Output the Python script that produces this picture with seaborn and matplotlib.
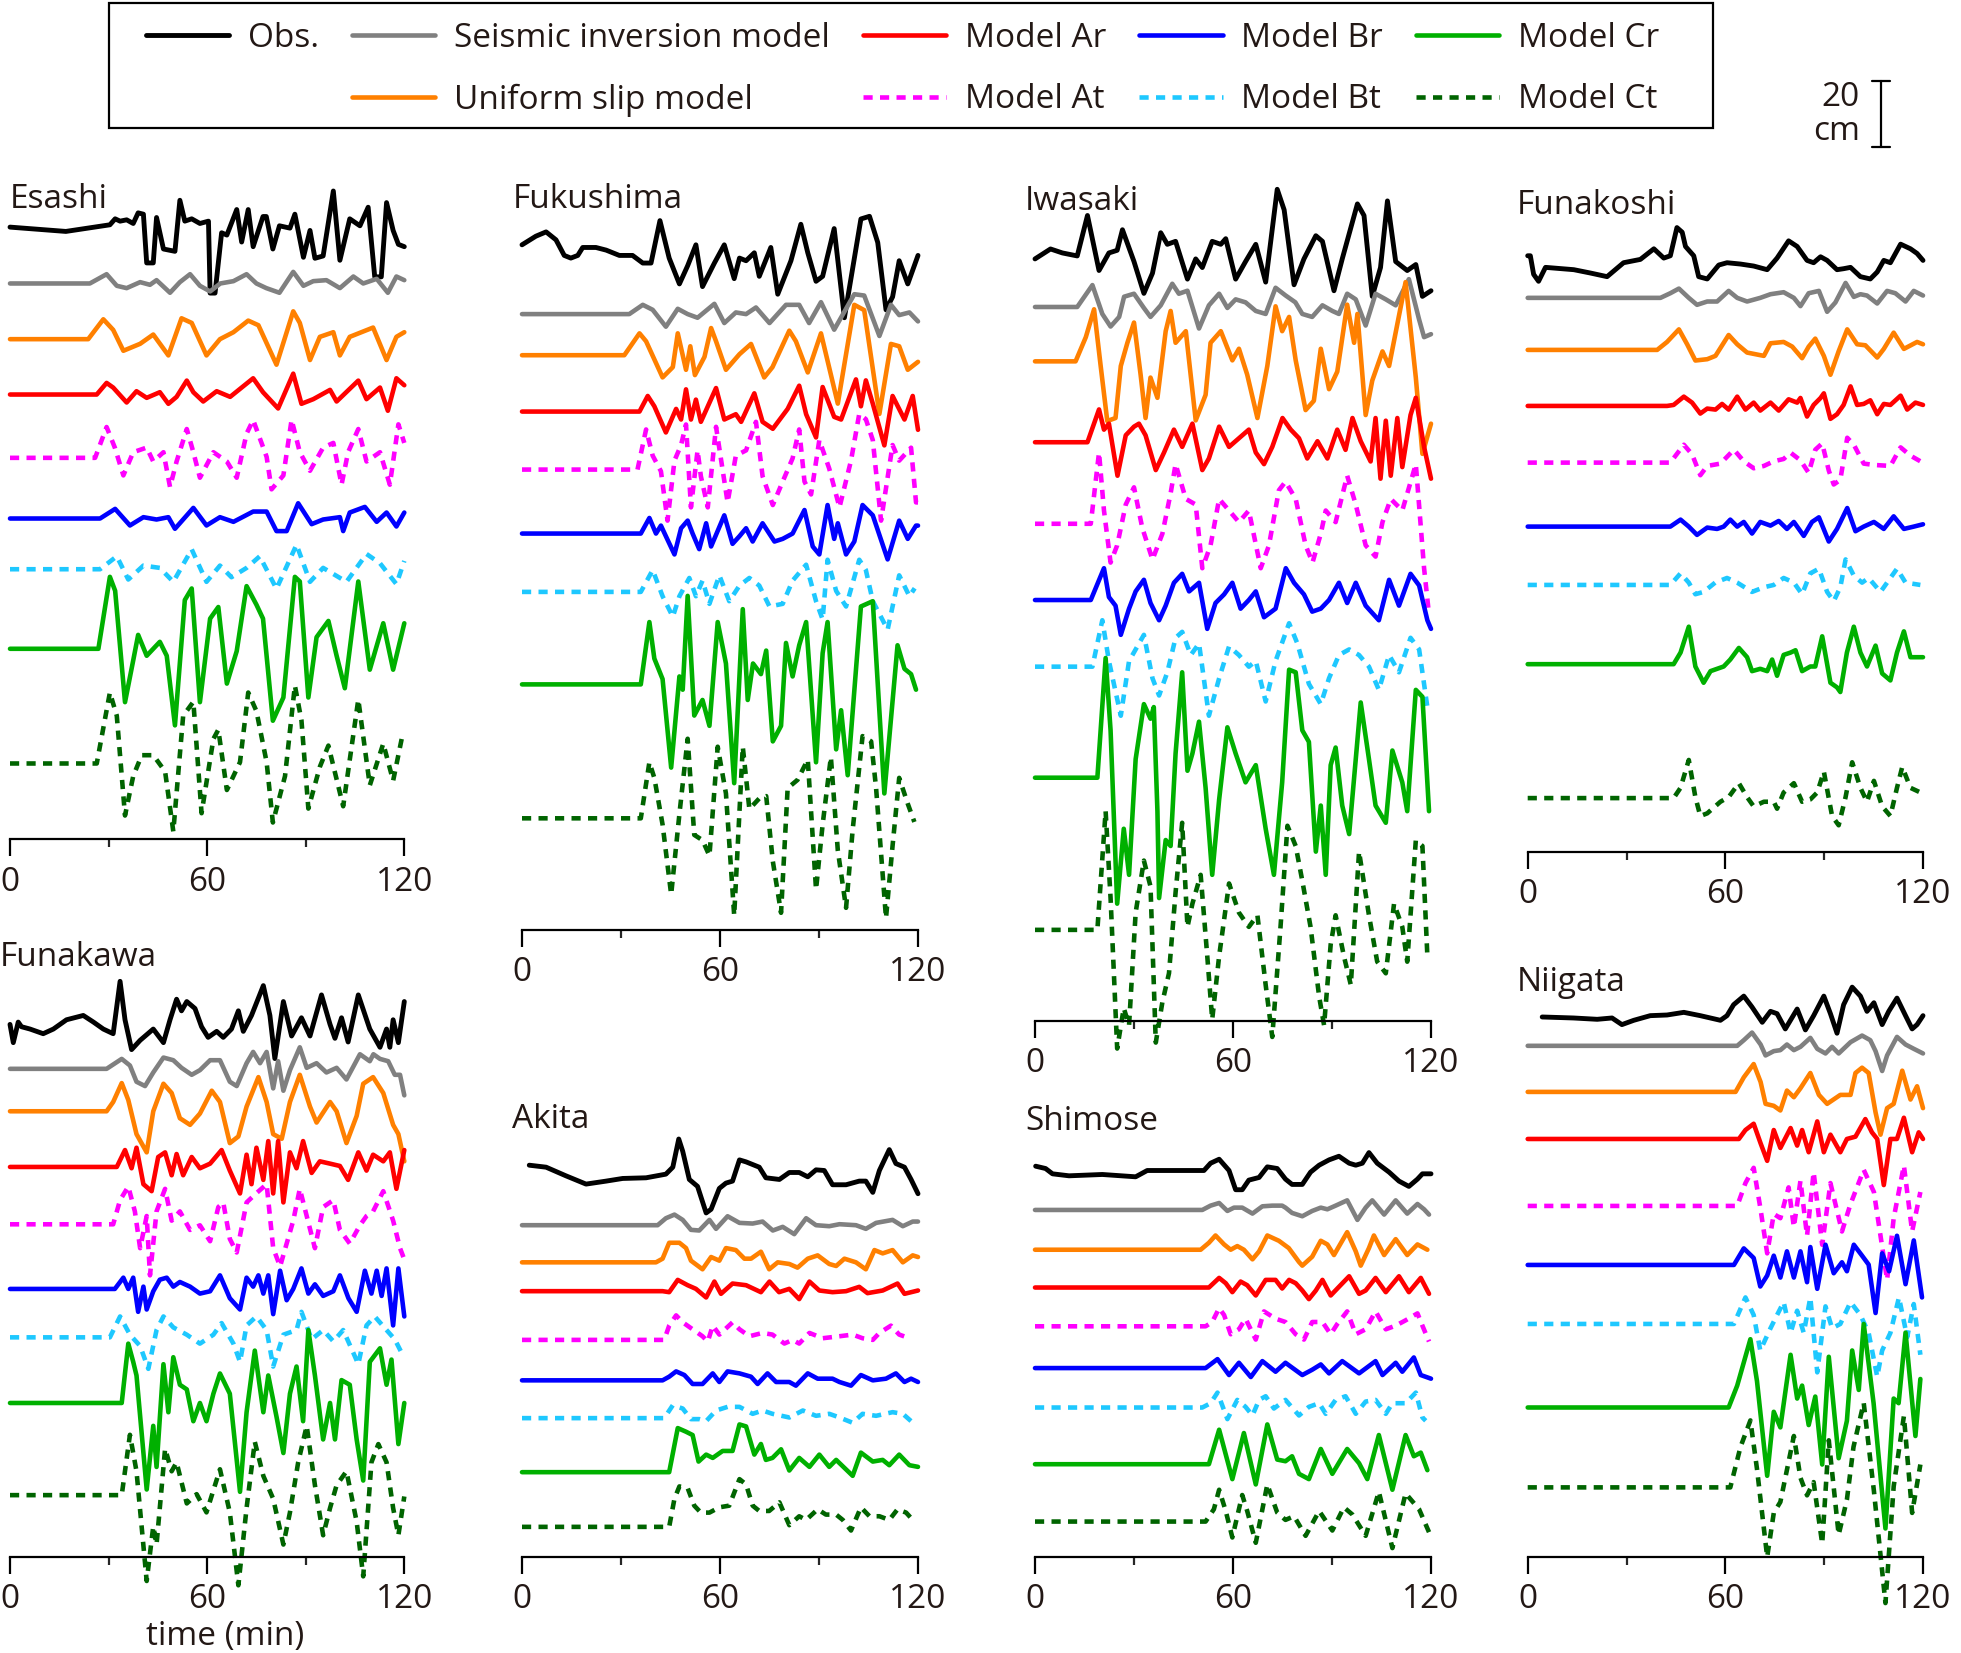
import matplotlib
matplotlib.use("Agg")
import matplotlib.pyplot as plt
import pandas as pd
import seaborn as sns
from matplotlib.lines import Line2D
from matplotlib.patches import Rectangle

# ---------------- DATA (time in min, amplitude in cm relative to trace baseline) -------------
SERIES_KEYS = ["obs", "seis", "unif", "Ar", "At", "Br", "Bt", "Cr", "Ct"]
SERIES_LABELS = ["Obs.", "Seismic inversion model", "Uniform slip model", "Model Ar", "Model At",
                 "Model Br", "Model Bt", "Model Cr", "Model Ct"]
TIME_MAJOR = [0, 60, 120]
TIME_MINOR = [30, 90]
SCALE_CM = 20
X_LABEL = "time (min)"

ESASHI = {
    "obs": [(0,0),(17,-1.3),(30.4,0.7),(32,2.5),(33.5,1.8),(35.5,2.2),(37.5,1.1),(39,4.3),(40.6,3.9),(41.6,-10.8),(43.6,-10.8),(44.6,2.9),(46.7,-6.6),(50.2,-7.3),(51.7,8.1),(53.2,1.8),(55.3,2.5),(57.8,1.1),(60.4,1.8),(60.9,-19.9),(62.4,-19.9),(64.4,-1.7),(66,-2.4),(69,5.3),(70.5,-4.5),(72.5,5.3),(74,-5.9),(77,3.2),(78,3.2),(80,-6.6),(82,0.4),(85.2,-0.3),(86.7,3.9),(89.3,-9.1),(91.3,-1),(92.8,-9.4),(95.3,-8.7),(98.4,10.9),(100.4,-10),(103.4,2.5),(106.5,0.4),(109,6),(111,-15),(113,-15),(114.6,7.4),(116.6,-1),(118.2,-5.2),(120,-5.9)],
    "seis": [(0,0),(24.3,0),(29.4,2.8),(32.5,-0.7),(35.5,-1.4),(39.6,0.4),(42.6,-0.4),(44.6,1),(48.7,-2.8),(51.7,0.4),(54.8,2.8),(57.8,-0.7),(60.9,-2.4),(64,0),(68,0.7),(72,2.8),(75,0),(78,-1.4),(82,-2.8),(86.2,3.5),(89.3,-0.7),(92.3,0.7),(96.3,1),(100.4,-1.4),(104.5,2.1),(107.5,0),(111.6,1.4),(115,-2.8),(117.6,2.1),(120,1)],
    "unif": [(0,0),(23.8,0),(28.4,6),(31.4,2.8),(34.5,-3.5),(39.6,-1.4),(43.6,1.4),(48.2,-4.9),(52.2,6.3),(55.3,4.9),(59.8,-4.9),(63.9,0),(68,2.1),(72.5,5.6),(75.6,4.2),(81.1,-7.7),(86.2,8.4),(88.2,4.9),(91.3,-6.3),(94.3,0.7),(98.4,2.1),(100.4,-4.9),(103.4,0.7),(110.5,3.5),(114.6,-6.3),(117.6,0.7),(120,2.1)],
    "Ar": [(0,0),(26.4,0),(29.4,3.5),(31.4,2.1),(35.5,-2.4),(38.5,1),(41.6,-1),(45.6,0.7),(48.2,-2.8),(50.7,-0.7),(53.8,4.2),(55.8,0.7),(58.8,-2.1),(62.9,1),(67,-0.7),(74,4.9),(77,0.7),(81.6,-4.2),(86.2,6.3),(88.7,-2.8),(92.3,-1.4),(97.4,1.4),(99.4,-2.1),(106,4.2),(108.5,-1.4),(112.6,2.1),(115,-4.9),(117.6,4.9),(120,2.8)],
    "At": [(0,0),(25.9,0),(29.4,9.3),(31.9,3.1),(34.5,-5.3),(37.5,1.7),(41.6,3.1),(43.6,-1.1),(46.7,1.7),(48.7,-8.8),(50.7,-1.1),(53.8,8.7),(55.8,1.7),(57.8,-6),(61.9,1.7),(66,-1.1),(69,-6),(72,7.3),(74,11.4),(78.1,0.3),(79.6,-9.5),(83.2,-5.3),(85.7,11.5),(88.2,1.7),(91.3,-3.9),(95.3,3.1),(98.4,4.5),(100.9,-8.1),(102.9,1.7),(106,8.7),(108.5,-1.1),(112.6,1.7),(115.6,-8.1),(118.2,10.1),(120,4.5)],
    "Br": [(0,0),(27.4,0),(32,2.9),(36.5,-2.1),(40.6,0.4),(44.6,-0.3),(48.2,0.4),(50.2,-3.1),(55.8,3.2),(59.8,-2.1),(63.9,0.4),(68,-1),(74,2.1),(78.1,2.1),(81.1,-3.8),(84.2,-3.8),(87.7,4.6),(91.8,-1.7),(95.3,-0.3),(100.4,0.4),(101.4,-3.8),(103.4,1.8),(108,3.5),(111.6,-1),(114.6,1.8),(117.6,-2.4),(120,1.8)],
    "Bt": [(0,0),(27.4,0),(32.5,3.9),(36,-3.1),(40.6,1.1),(45.6,0.4),(49.7,-3.8),(55.3,6),(59.8,-3.8),(63.9,1.1),(67.4,-2.4),(72,0.4),(76,3.9),(81.1,-5.9),(87.2,7.4),(91.3,-3.8),(95.3,0.4),(102.4,-3.8),(108.5,4.6),(112.6,1.8),(117.6,-4.5),(120,2.5)],
    "Cr": [(0,0),(26.9,0),(30.4,21.7),(32,17.5),(35,-16.1),(37.5,-3.5),(39,4.2),(41.6,-2.1),(45.6,2.1),(47.7,-2.1),(50.2,-23.1),(53.2,14.7),(55.3,18.2),(57.8,-16.1),(60.9,9.1),(63.4,12.6),(66,-10.5),(69,-0.7),(72,18.9),(75,13.3),(77,9.1),(80,-21.7),(83.2,-14.7),(86.7,21.7),(88.2,20.3),(90.8,-14.7),(93.3,3.5),(96.9,8.4),(99.4,-2.1),(101.9,-11.9),(106,20.3),(109.5,-6.3),(113.6,7.7),(116.6,-6.3),(120,7.7)],
    "Ct": [(0,0),(26.4,0),(30.4,21.4),(32.5,14.4),(35,-15.7),(37.5,-3.8),(40.1,2.5),(43.6,2.5),(47.2,-2.4),(49.7,-20.5),(52.7,14.4),(55.8,18.6),(58.3,-15),(61.9,7.4),(63.4,10.2),(66,-8),(70,0.4),(72.5,21.4),(75,15.8),(78.1,0.4),(80,-17.8),(83.7,-3.8),(86.7,23.5),(88.7,13),(90.8,-13.6),(94.3,-1),(96.9,5.4),(101.4,-12.9),(106,19.3),(109.5,-6.6),(113.6,6),(116.6,-5.2),(119.2,7.4),(120,7.4)],
}

FUKUSHIMA = {
    "obs": [(0,2.4),(4.2,5.0),(7.3,6.3),(10.3,3.9),(12.8,-0.8),(14.8,-1.6),(16.9,-0.8),(18.4,1.6),(22.4,1.6),(25.5,0.8),(29.5,-0.8),(33.5,-0.8),(36.6,-3.1),(39.1,-3.1),(41.8,9.7),(44.6,-1.6),(47.7,-9.4),(50.2,-3.9),(52.7,2.4),(54.7,-10.2),(58.3,-3.1),(61.3,2.4),(64.3,-7.8),(65.9,-1.6),(67.9,-2.4),(70.4,0),(71.9,-7.1),(75.4,1.6),(77.5,-12.5),(81.5,-2.4),(84.5,8.6),(86.6,0),(89.1,-8.6),(91.1,-7.1),(94.6,7.3),(97.7,-19.6),(100.2,-4.7),(102.7,10.2),(105.3,11.0),(107.8,3.1),(110.3,-17.2),(112.3,-13.3),(114.3,-2.4),(116.9,-9.4),(120,-0.8)],
    "seis": [(0,0),(32.5,0),(36.6,2.8),(39.6,1.3),(43.6,-3.8),(47.2,1.6),(50.2,0),(53.2,-1.1),(58.3,3.1),(61.3,-2.7),(64.8,0.5),(67.9,0),(70.9,2.0),(75,-2.7),(80,2.8),(84,2.8),(87,-2.7),(90.6,3.6),(94.6,-4.7),(100.7,6.0),(103.7,5.6),(108.3,-6.6),(111.8,2.8),(114.3,-0.3),(117.4,0.5),(120,-2.2)],
    "unif": [(0,0),(31,0),(35.6,6.6),(37.6,4.2),(42.6,-6.7),(45.7,-3.6),(47.2,6.6),(49.7,-4.4),(51,2.7),(52.4,-6.0),(55.3,-0.5),(57.3,8.2),(58.8,4.2),(61.8,-4.4),(65.9,0.3),(69.4,3.4),(73.4,-6.7),(75.9,-3.6),(81,7.4),(83,4.2),(86.6,-5.2),(90.6,6.6),(95.7,-14.6),(100.7,15.2),(103.7,13.6),(108.3,-17.7),(111.8,3.4),(114.3,2.7),(116.9,-4.4),(120,-2.0)],
    "Ar": [(0,0),(35.6,0),(38.1,4.7),(40.1,1.6),(43.6,-6.3),(46.7,0.8),(48.2,-2.4),(49.7,6.7),(51.2,-2.4),(52.7,3.6),(54.2,-3.1),(58.8,7.1),(61.3,-2.4),(64.8,-0.8),(66.4,-3.1),(70.4,5.5),(72.9,-3.1),(76,-5.2),(80.5,0.8),(84,7.8),(86.1,-0.8),(89.1,-7.8),(91.1,7.4),(94.6,-1.6),(96.7,-2.4),(101.2,9.7),(102.7,1.6),(104.2,9.4),(106.3,2.4),(109.8,-10.2),(112.3,4.7),(115.9,-2.4),(118.4,4.7),(120,-5.5)],
    "At": [(0,0),(35,0),(37.6,12.1),(39.6,4.2),(42.1,-0.5),(44.1,-15.4),(46.2,2.7),(48.2,7.4),(49.7,13.6),(51.2,-11.4),(53.2,5.8),(54.2,-2.0),(56.3,-11.4),(58.8,12.9),(62.3,-9.9),(64.8,4.2),(67.9,5.8),(70.9,14.4),(72.9,-2.0),(76,-10.7),(79,-3.6),(82,3.4),(84,12.1),(85.6,-3.6),(87.6,-7.5),(90.1,8.9),(93.1,0.3),(96.2,-11.4),(99.7,2.7),(102.2,16.8),(104.2,15.2),(106.3,8.9),(108.8,-15.4),(112.3,7.4),(114.3,2.7),(117.9,6.6),(119.4,-9.9),(120,-9.9)],
    "Br": [(0,0),(36,0),(38.6,4.7),(40.6,0),(42.1,2.4),(43.6,-0.8),(46.2,-6.3),(48.2,1.6),(50.2,3.9),(51.7,0),(53.7,-4.7),(55.8,3.1),(57.3,-3.9),(61.3,5.5),(63.8,-3.1),(65.9,-0.8),(67.9,1.6),(69.9,-2.4),(72.9,3.1),(76.5,-2.4),(79,-1.6),(82,0),(85.6,7.1),(88.1,-3.9),(90.1,-6.3),(92.6,8.6),(94.6,-1.6),(95.7,3.1),(98.2,-6.3),(100.7,-2.4),(103.2,8.6),(106.3,5.5),(110.8,-7.8),(114.3,3.9),(116.9,-1.6),(119.4,2.4),(120,2.4)],
    "Bt": [(0,0),(36,0),(39.6,6.6),(42.6,-1.3),(45.7,-7.5),(47.7,-1.3),(50.7,4.2),(52.7,-1.3),(54.7,3.4),(56.8,-3.6),(59.8,5.0),(62.8,-2.8),(65.9,1.9),(68.9,4.2),(71.9,1.9),(75,-4.4),(79,-3.6),(82,3.4),(86.1,8.2),(89.1,-2.8),(91.1,-8.3),(92.6,9.7),(95.2,0.3),(98.2,-4.4),(102.2,9.7),(104.2,6.6),(106.3,-2.8),(110.8,-11.4),(114.3,5.0),(117.4,-1.3),(119,1.1)],
    "Cr": [(0,0),(36,0),(38.6,18.8),(40.1,7.8),(42.6,1.6),(45.2,-25.1),(47.7,2.4),(48.7,-1.6),(50.2,26.7),(52.2,-9.4),(54.7,-4.7),(56.8,-12.5),(59.3,18.8),(61.8,6.3),(64.3,-29.8),(66.9,22.7),(68.4,-4.7),(70,6.3),(72.4,3.1),(74,10.2),(76,-17.2),(78.5,-12.5),(80,12.5),(82,2.4),(84,11.8),(86.1,18.8),(89.1,-23.5),(91.1,9.4),(92.6,18.8),(95.2,-19.6),(96.7,-7.8),(98.7,-27.4),(102.7,23.5),(106.3,25.1),(109.8,-32.9),(113.8,11.8),(115.9,4.7),(117.9,3.1),(119.4,-1.6)],
    "Ct": [(0,0),(36,0),(38.6,16.9),(40.1,12.2),(42.6,-1.9),(45.2,-23.0),(47.7,1.3),(50.2,24.0),(52.2,-5.0),(54.7,-6.6),(56.8,-11.3),(59.3,21.6),(61.8,7.5),(64.3,-29.3),(66.9,21.6),(68.9,2.8),(71.9,6.0),(74,6.7),(76,-12.9),(78.5,-28.5),(80.5,9.1),(83.5,11.6),(86.6,17.7),(89.1,-21.5),(91.1,-1.9),(93.6,18.5),(95.7,-9.7),(98.2,-27.0),(100.2,-3.5),(103.2,24.8),(105.8,23.2),(107.3,9.1),(110.3,-30.1),(112.3,-8.2),(114.3,12.2),(116.9,4.4),(118.9,-1.1)],
}

IWASAKI = {
    "obs": [(0,-0.9),(4.7,2.1),(8.3,0.9),(12.8,0),(15.9,12.2),(19.4,-4.4),(22.4,0.9),(24.9,1.7),(26.5,7.9),(30,-1.7),(33,-11.3),(35.6,-5.2),(38.1,7.0),(40.1,3.5),(42.6,4.4),(46.2,-7.0),(48.7,-0.9),(50.7,-3.5),(53.7,4.4),(56.3,3.5),(57.8,5.2),(60.8,-7.0),(63.8,-1.7),(66.9,3.5),(69.9,-7.9),(73.4,20.1),(75.5,13.9),(78.5,-8.7),(81.5,-0.9),(85.1,6.1),(87.1,4.4),(90.6,-10.5),(93.1,-0.9),(97.7,15.7),(99.7,12.2),(102.2,-12.2),(104.7,-3.5),(106.8,16.6),(109.3,-1.7),(112.8,-4.4),(115.4,-2.6),(117.4,-12.2),(120,-10.5)],
    "seis": [(0,0),(12.8,0),(17.4,6.6),(20.4,-2.1),(22.9,-5.9),(25.5,-3.0),(27,3.1),(30,4.0),(33,-0.3),(35,-3.0),(38.1,0.5),(41.6,7.0),(43.6,4.0),(46.2,4.9),(49.7,-6.5),(52.7,0.5),(55.8,4.0),(58.3,-0.3),(60.8,2.3),(63.8,1.4),(66.9,-1.2),(69.9,-2.1),(72.9,5.8),(75.9,3.5),(78.9,1.4),(81,-2.1),(84,-3.0),(87.1,0.5),(90.1,-1.2),(92.1,-2.1),(94.6,4.0),(97.2,2.3),(100.2,-5.6),(103.2,4.0),(106.3,2.3),(109.3,0.5),(113.3,8.4),(116.4,-3.8),(117.9,-9.1),(120,-8.2)],
    "unif": [(0,0),(12.3,0),(15.4,7.3),(17.9,15.7),(19.9,-1.4),(21.9,-18.0),(24.4,-17.1),(26,-1.4),(28,5.6),(30,11.7),(32,-4.0),(33.5,-17.1),(35,-4.9),(37.1,-11.0),(39.6,9.1),(41.1,15.2),(42.6,5.6),(45.7,9.1),(48.7,-17.8),(51.7,-10.1),(53.2,5.6),(56.3,9.1),(59.8,0.3),(61.8,3.8),(64.3,-4.0),(67.4,-17.1),(70.4,-1.4),(72.9,16.6),(74.9,9.1),(77,13.4),(79,0.3),(82,-14.7),(84.5,-11.9),(86.6,3.8),(89.1,-8.4),(91.6,-3.1),(94.6,17.1),(96.7,5.6),(97.7,14.3),(100.2,-16.2),(102.2,-5.8),(105.3,3.0),(107.3,-1.4),(112.3,23.9),(115.4,-4.9),(117.4,-27.9),(120,-18.8)],
    "Ar": [(0,0),(15.9,0),(19.4,9.9),(20.9,3.8),(22.4,5.6),(25,-10.1),(27.5,2.1),(30,4.7),(31.5,5.6),(33.5,2.1),(36.6,-8.4),(39.1,-3.1),(42.1,3.8),(44.6,-1.4),(47.7,5.6),(50.7,-8.4),(52.7,-4.9),(55.8,4.7),(58.8,-1.4),(61.8,1.2),(64.8,3.8),(66.9,-3.1),(69.4,-6.6),(71.9,-1.4),(75,7.3),(77.5,3.8),(80,1.2),(82.5,-4.9),(85.6,0.3),(88.6,-4.9),(91.6,3.8),(94.1,-2.3),(96.2,7.3),(98.7,0.3),(101.7,-5.8),(103.2,7.3),(104.7,-11.0),(106.3,6.5),(107.8,-10.1),(109.8,7.3),(111.3,-7.5),(113.8,8.2),(115.4,13.4),(117.9,-1.4),(120,-11.0)],
    "At": [(0,0),(16.9,0),(19.4,21.5),(20.9,4.0),(22.9,-11.7),(24.9,-6.5),(27.5,5.8),(30,11.0),(32.5,-1.2),(35.6,-10.8),(38.6,-3.0),(41.1,9.2),(42.6,18.0),(45.7,7.5),(48.7,5.8),(50.7,-13.4),(53.2,-6.5),(55.8,7.5),(58.8,4.0),(61.8,0.5),(64.8,4.0),(68.4,-13.4),(70.9,-6.5),(73.9,10.1),(75.9,12.7),(79,7.5),(82,-6.5),(84.1,-11.7),(86.6,-3.0),(88.1,4.0),(91.1,0.5),(94.6,14.5),(97.2,5.8),(100.2,-6.5),(103.2,-9.9),(105.3,0.5),(107.8,7.5),(111.3,4.0),(115.4,18.0),(117.9,-13.4),(119.4,-27.4)],
    "Br": [(0,0),(16.9,0),(20.9,9.6),(22.4,0.9),(24.4,-1.7),(26,-10.5),(28.5,-2.6),(30.5,2.6),(33,6.1),(35,-0.9),(37.6,-6.1),(39.6,-1.7),(42.1,5.2),(44.6,7.9),(46.7,2.6),(49.7,5.2),(52.2,-8.7),(54.7,-0.9),(57.3,1.7),(59.8,5.2),(62.3,-2.6),(64.8,0),(66.9,2.6),(69.4,-5.2),(72.9,-2.6),(76,9.6),(78.5,5.2),(81.5,1.7),(84,-3.5),(86.6,-2.6),(89.1,0),(92.1,5.2),(94.6,-0.9),(97.2,5.2),(100.2,-1.7),(104.2,-6.1),(107.3,6.1),(110.3,-1.7),(113.8,7.9),(116.4,4.4),(118.9,-6.1),(120,-8.7)],
    "Bt": [(0,0),(17.4,0),(20.4,14.0),(22.4,1.7),(26,-14.8),(28.5,1.7),(30.5,5.2),(33,9.6),(35.6,-3.5),(37.6,-8.7),(40.1,-1.7),(42.6,8.7),(44.6,10.5),(47.2,3.5),(49.7,7.0),(52.7,-14.8),(55.8,-3.5),(58.8,6.1),(61.8,3.5),(64.8,0),(66.9,1.7),(69.9,-10.5),(72.9,1.7),(77,13.1),(79.5,7.0),(83,-5.2),(86.6,-11.3),(89.1,-3.5),(92.1,3.5),(95.2,5.2),(98.2,3.5),(101.2,0),(104.2,-7.0),(107.3,3.5),(110.3,-1.7),(113.8,8.7),(116.4,5.2),(118.9,-12.2)],
    "Cr": [(0,0),(18.9,0),(21.4,36.1),(22.9,14.3),(24.9,-38.0),(26.9,-15.4),(28.5,-29.3),(30.5,5.6),(33,22.2),(35,17.8),(36,21.3),(37.1,-10.1),(37.6,-36.3),(39.6,-18.8),(41.1,-20.6),(42.6,7.3),(44.6,31.8),(46.2,2.1),(47.7,7.3),(49.7,16.9),(51.7,-3.1),(53.7,-29.3),(55.8,-6.6),(58.3,15.2),(60.8,7.3),(63.8,-1.4),(66.9,3.8),(69.9,-15.4),(72.4,-29.3),(74.9,-1.4),(77,32.6),(79,31.8),(81,14.3),(83,10.8),(85.1,-22.3),(86.6,-8.4),(88.1,-29.3),(89.6,3.8),(91.1,9.1),(93.1,-8.4),(95.2,-17.0),(97.2,5.6),(98.7,22.7),(101.2,5.6),(103.2,-8.4),(106.3,-13.6),(108.3,8.2),(111.3,-1.4),(112.8,-10.1),(115.4,26.5),(117.4,24.4),(119.4,-10.1)],
    "Ct": [(0,0),(18.9,0),(21.4,35.8),(22.9,9.6),(24.9,-35.8),(26.9,-23.6),(28.5,-28.8),(30.5,5.2),(33,20.9),(35,13.1),(36.6,-34.0),(38.6,-21.8),(40.6,-13.1),(42.6,11.3),(44.6,32.3),(46.2,0.9),(47.7,7.9),(50.2,16.6),(52.2,-7.9),(53.7,-27.0),(55.8,-7.9),(58.8,14.0),(61.8,5.2),(64.8,0.9),(67.4,4.4),(69.9,-16.6),(71.9,-32.3),(74.4,0.9),(76.5,31.4),(79,25.3),(81,14.8),(83.5,0.9),(86.1,-20.1),(87.6,-28.8),(89.6,-4.4),(91.1,4.4),(93.6,-7.9),(95.7,-16.6),(98.2,23.6),(101.2,4.4),(103.7,-9.6),(106.3,-13.1),(108.8,7.9),(111.3,0.9),(112.8,-9.6),(115.4,27.0),(117.4,25.3),(118.9,-7.9)],
}

FUNAKOSHI = {
    "obs": [(0,4.2),(0.8,4.2),(1.8,-1.4),(3.3,-3.5),(5.4,0.7),(14,0),(19,-1.0),(24.1,-2.1),(29.1,2.1),(34.2,3.1),(38.3,6.3),(41.3,3.5),(43.3,4.2),(45.3,12.7),(46.9,11.3),(47.9,7.0),(50.4,4.2),(51.9,-2.1),(54.5,-2.8),(58,1.4),(60.5,2.1),(64.6,1.7),(68.6,1.1),(72.7,0),(75.7,3.5),(79.2,8.7),(81.8,7.0),(84.8,2.8),(86.8,2.1),(88.9,3.9),(90.9,2.8),(93.9,0),(95.9,0.3),(98,0.7),(101,-2.1),(104,-2.8),(106.1,-0.7),(108.1,2.8),(110.1,2.1),(113.2,7.7),(116.2,6.3),(118.2,4.9),(120,2.8)],
    "seis": [(0,0),(40.3,0),(43.3,1.4),(45.9,2.8),(48.9,0),(51.4,-2.1),(54.5,-1.1),(57.5,-1.1),(61,2.1),(63.6,0),(66.6,-1.1),(70.6,0),(73.7,1.1),(77.7,1.7),(80.8,0),(82.8,-2.5),(85.3,1.4),(88.4,2.1),(90.9,-4.2),(93.4,-1.4),(96.5,4.5),(99,0.3),(101,1.1),(103,0.7),(106.1,-1.7),(109.1,2.1),(111.6,1.4),(114.7,-1.1),(117.2,2.1),(120,0.7)],
    "unif": [(0,0),(39.3,0),(42.3,2.4),(45.9,6.2),(48.4,1.7),(50.9,-3.2),(54.5,-2.8),(57,-1.8),(61,4.5),(63.6,1.7),(66.6,-0.8),(71.7,-1.8),(73.7,2.0),(77.7,2.4),(80.3,1.0),(83.3,-2.5),(85.3,1.0),(87.3,3.4),(89.9,-1.8),(91.9,-7.5),(94.4,-0.4),(97,6.2),(100,1.7),(102.5,1.4),(106.1,-2.3),(108.1,0.3),(111.1,5.2),(114.2,0.3),(118.2,2.4),(120,1.7)],
    "Ar": [(0,0),(42.3,0),(44.3,0.3),(47.4,2.8),(49.9,1.0),(52.4,-2.3),(54.5,-0.8),(57,-1.1),(59,0.6),(61,-1.1),(63.6,2.8),(66.1,-1.1),(68.6,1.0),(70.6,-1.4),(73.7,1.0),(76.2,-1.4),(79.2,2.0),(81.8,1.0),(82.8,2.4),(84.8,-3.2),(86.8,0.3),(88.9,2.4),(89.9,3.8),(91.9,-3.9),(93.9,-2.5),(95.9,0.3),(98,5.9),(100,0.3),(102,0.6),(104,1.7),(106.1,-2.5),(108.1,0.6),(110.1,0.3),(113.2,3.1),(115.2,-1.1),(117.7,1.0),(120,0.3)],
    "At": [(0,0),(43.3,0),(47.4,5.4),(49.9,2.5),(52.4,-3.8),(54.5,-1.0),(58.5,-0.3),(62.6,3.9),(65.6,0.4),(68.6,-1.7),(71.7,-1.0),(74.7,0.4),(77.7,1.1),(79.8,3.0),(82.8,0.7),(85.3,-3.1),(87.3,3.9),(89.4,5.8),(91.4,-2.4),(92.9,-6.6),(94.9,-5.2),(97,7.5),(99,5.4),(102,-0.3),(105.1,-0.7),(110.1,-1.0),(113.2,4.6),(116.2,2.1),(119.2,0.4)],
    "Br": [(0,0),(43.3,0),(46.4,2.1),(48.9,0),(51.4,-2.5),(54.5,-0.3),(57.5,-0.7),(59.5,0),(61.5,2.1),(63.6,0),(65.6,1.4),(68.1,-2.1),(70.6,1.4),(73.7,0.3),(76.2,1.7),(78.7,-0.7),(80.8,1.4),(83.8,-2.8),(86.3,1.4),(88.4,2.8),(91.4,-4.5),(93.9,-0.7),(97,5.6),(99.5,-1.4),(102,0),(105.1,1.4),(108.1,-0.7),(111.1,3.1),(114.2,-0.7),(117.2,0),(120,0.7)],
    "Bt": [(0,0),(43.3,0),(46.4,3.5),(48.9,0.7),(50.9,-2.8),(53.4,-2.1),(56.9,0.7),(60.5,2.1),(63.6,0.7),(68.1,-2.1),(71.7,-0.7),(74.7,0),(77.7,2.1),(80.8,0.7),(83.3,-2.8),(85.8,3.5),(88.4,4.9),(90.9,-2.1),(92.9,-4.9),(94.9,-0.7),(96.5,7.7),(99,2.8),(101.5,0.7),(103.5,2.1),(107.1,-2.1),(110.1,2.1),(112.1,4.9),(114.7,0.7),(119.2,0)],
    "Cr": [(0,0),(44.3,0),(46.4,3.5),(48.9,11.3),(50.9,-0.7),(53.4,-5.6),(55.5,-2.1),(59.5,-0.7),(61.5,1.4),(64.1,4.9),(66.6,2.1),(68.1,-2.1),(70.6,-1.4),(72.7,-2.1),(74.2,1.4),(75.7,-3.5),(77.7,2.8),(79.8,3.5),(81.3,4.2),(83.3,-2.1),(85.8,-0.7),(87.3,-0.7),(89.4,8.4),(91.9,-5.6),(93.9,-7.0),(94.9,-8.4),(96.9,3.5),(99,11.3),(101,3.5),(103,-0.7),(105.6,5.6),(107.6,-2.8),(110.1,-4.9),(112.1,3.5),(114.2,9.9),(116.2,2.1),(118.2,2.1),(120,2.1)],
    "Ct": [(0,0),(44.3,0),(46.4,3.1),(48.9,11.5),(50.9,0.3),(52.4,-5.4),(54.5,-4.6),(58.5,-1.1),(61,0.3),(64.1,4.5),(66.6,0.3),(68.6,-2.5),(71.7,-1.1),(74.7,-1.1),(75.7,-3.2),(77.7,1.7),(80.8,4.5),(83.3,-1.1),(85.8,-0.4),(87.9,1.7),(89.9,8.0),(92.4,-5.4),(94.4,-8.2),(96.5,0.3),(98.5,10.8),(101,3.1),(103,-1.1),(105.1,5.2),(107.6,-2.5),(110.1,-5.4),(112.1,3.1),(113.7,9.4),(116.2,3.1),(119.2,1.7)],
}

FUNAKAWA = {
    "obs": [(0,1.4),(1,-4.1),(2.5,2.1),(3.5,0.7),(6.1,0),(10.1,-1.4),(13.2,0),(17.2,2.8),(22.3,4.1),(25.4,2.1),(28.4,0),(31.4,-1.4),(33.5,14.4),(35,2.8),(37,-6.2),(39.6,-3.4),(43.6,0),(46.7,-4.1),(48.7,2.8),(50.7,9.0),(52.2,5.5),(53.8,8.3),(56.3,6.2),(58.3,0.7),(60.3,-2.5),(62.9,-0.7),(64.9,-2.5),(67.4,0),(69.5,5.5),(71,-0.7),(73.5,4.1),(77.1,13.1),(79.1,4.1),(80.6,-8.9),(83.2,8.3),(85.7,-2.1),(88.7,3.4),(91.3,-2.1),(94.8,10.3),(97.4,1.4),(98.9,-2.8),(100.9,3.4),(102.9,-3.9),(106,10.3),(109.5,0),(112.6,-5.5),(114.6,0),(115.6,-5.5),(116.6,2.8),(118.2,-4.1),(120,8.3)],
    "seis": [(0,0),(29.4,0),(34,3.0),(36.5,1.0),(38.5,-3.9),(41.1,-5.2),(43.6,-1.1),(46.7,3.4),(49.7,2.6),(52.2,0.3),(55.3,-1.8),(57.8,-0.4),(60.9,2.6),(63.9,2.6),(66.9,-3.9),(69,-5.2),(72,1.7),(74,5.1),(76.1,1.7),(78.1,5.1),(80.1,-5.9),(81.6,2.3),(83.2,-6.6),(85.2,-0.4),(88.2,6.5),(90.3,0.3),(93.3,1.7),(96.3,-1.1),(99.4,0.3),(102.4,-3.2),(106.5,4.4),(109.5,2.3),(110.6,4.4),(112.6,3.0),(115.1,2.3),(117.1,-1.8),(118.7,-1.8),(120,-8.0)],
    "unif": [(0,0),(29.4,0),(31.4,2.8),(34,8.5),(36,3.4),(38.5,-6.9),(41.6,-12.4),(43.6,0),(46.7,8.3),(49.2,5.5),(51.7,-2.1),(54.8,-4.1),(57.8,-0.7),(61.4,6.2),(63.9,2.8),(66.9,-9.6),(69.5,-7.6),(72,1.4),(75.6,10.3),(78.1,2.8),(80.1,-6.9),(82.7,-8.3),(85.2,2.8),(88.2,11.0),(91.3,1.4),(93.3,-3.4),(97.4,2.8),(99.4,0),(102.4,-9.6),(105.5,-1.4),(107.5,8.3),(110.5,10.3),(113.6,5.5),(116.6,-4.1),(118.2,-6.9),(120,-15.1)],
    "Ar": [(0,0),(32.5,0),(35,5.1),(37,-0.4),(38.5,5.8),(40.6,-5.2),(43.1,-7.3),(45.1,3.0),(47.2,4.4),(49.2,-2.5),(50.7,3.9),(52.7,-2.5),(55.3,3.0),(57.8,-0.4),(60.9,1.0),(64.4,5.1),(66.9,-1.1),(70,-8.0),(72,3.7),(73.5,-5.2),(75,5.8),(77.1,-3.9),(78.6,7.8),(80.1,-8.0),(81.6,7.8),(83.2,-10.7),(85.2,4.4),(87.2,-0.4),(89.2,7.8),(91.8,-1.8),(94.3,1.7),(97.4,1.0),(100.4,0.3),(102.9,-3.9),(106,4.4),(108.5,-1.1),(110.5,3.7),(113.6,1.7),(115.6,4.4),(117.6,-6.6),(120,5.1)],
    "At": [(0,0),(31.4,0),(33.5,7.3),(36,11.4),(38,3.9),(39.6,-7.2),(41.6,2.5),(42.6,-15.4),(44.6,3.9),(47.2,10.7),(49.2,1.1),(51.7,3.9),(54.8,-1.7),(57.8,-0.3),(60.9,-5.1),(63.4,5.2),(64.9,6.6),(66.9,-4.4),(69,-8.5),(72,6.6),(75,9.4),(78.1,12.1),(80.1,-7.2),(82.2,-12.7),(84.2,-5.8),(86.2,1.1),(88.2,10.7),(90.3,2.5),(92.8,-7.2),(95.3,5.2),(98.4,7.3),(100.4,-1.7),(103.4,-5.8),(106.5,-0.3),(108.5,2.5),(110.5,3.9),(113.6,10.0),(116.6,1.1),(118.7,-7.2),(120,-10.6)],
    "Br": [(0,0),(31.9,0),(34.5,3.4),(36,0),(37.5,3.4),(39,-6.9),(40.6,0.7),(41.6,-6.2),(43.6,-0.7),(45.6,2.8),(47.7,3.4),(49.7,0.7),(51.7,2.1),(54.8,0.7),(57.8,-1.4),(60.9,-0.7),(63.9,4.1),(66.9,-2.8),(70,-6.2),(72,3.4),(74,0.7),(75.6,4.1),(77.1,-1.4),(78.6,4.1),(80.1,-7.6),(82.2,5.5),(84.2,-3.4),(86.2,0),(88.7,6.2),(90.8,-1.4),(92.8,1.4),(95.3,-2.1),(98.4,-0.7),(100.4,4.1),(103,-2.8),(105.5,-6.9),(108,5.5),(110,-1.4),(111.6,5.5),(113.1,-2.1),(114.6,6.2),(116.6,-11.0),(118.2,6.2),(120,-8.3)],
    "Bt": [(0,0),(30.4,0),(33.5,6.3),(36.5,0.8),(39.6,-2.6),(42.1,-9.5),(44.6,2.2),(46.7,6.3),(49.7,3.0),(53.8,0.8),(57.8,-1.9),(61.9,0.8),(64.4,4.3),(68,-1.9),(70,-7.4),(72,3.6),(75,6.3),(78.1,2.2),(80.1,-8.8),(83.2,0.8),(87.2,2.2),(88.7,7.7),(91.8,-0.6),(95.3,2.2),(98.4,-1.2),(101.4,2.2),(104.5,-4.7),(106,-8.1),(108.5,3.6),(111,6.3),(114.6,2.2),(117.1,-0.6),(119.2,-4.7)],
    "Cr": [(0,0),(34,0),(36,17.9),(37.5,12.4),(38.5,8.3),(41.6,-26.1),(43.6,-6.9),(44.6,-19.3),(46.7,11.7),(48.2,-2.8),(49.7,13.8),(51.7,5.5),(53.8,4.1),(55.8,-5.5),(57.8,0),(59.8,-5.5),(61.9,2.8),(63.9,8.9),(66.9,2.8),(70,-26.8),(72,-2.8),(74.5,15.8),(77.1,-2.8),(78.6,8.3),(81.1,-4.1),(83.2,-15.1),(85.2,2.8),(87.2,11.0),(89.2,-5.5),(90.8,22.0),(92.8,8.3),(95.3,-11.0),(97.4,0),(98.9,-11.0),(100.9,6.9),(103.4,5.5),(105.5,-11.0),(107.5,-23.4),(109.5,12.4),(112.6,16.5),(114.6,5.5),(116.1,13.1),(118.2,-12.4),(120,0)],
    "Ct": [(0,0),(34,0),(36.5,18.2),(38.5,7.2),(41.6,-25.9),(43.6,-9.4),(44.6,-14.9),(47.2,14.0),(49.2,7.2),(50.7,9.9),(53.8,-2.5),(56.8,0.3),(59.8,-5.2),(63.9,7.8),(66.9,-5.2),(69.5,-27.2),(72,-3.9),(74.5,16.1),(77.1,5.8),(80.1,-1.1),(83.2,-14.9),(85.2,-5.2),(87.7,9.9),(90.3,20.9),(92.8,3.0),(95.3,-12.1),(97.4,-3.9),(99.4,3.0),(102.4,7.2),(105.5,-8.0),(107.5,-24.5),(110,9.9),(112.1,15.4),(114.6,9.9),(116.6,-3.9),(118.2,-12.1),(120,-0.4)],
}

AKITA = {
    "obs": [(2.2,2.7),(7.3,2.1),(13.3,-0.5),(19.4,-3.0),(25.5,-2.1),(30.5,-1.3),(37.6,-1.1),(43.6,0),(45.7,2.1),(47.5,10.6),(48.7,6.9),(50.7,-1.6),(53.2,-3.7),(55.8,-11.7),(57.3,-10.6),(59.8,-4.3),(61.8,-2.7),(63.8,-2.1),(65.9,4.3),(67.9,3.7),(71.9,2.1),(73.9,-1.1),(78,-1.6),(81,0.5),(84,0.5),(86.6,-0.8),(89.1,1.3),(91.6,1.1),(94.1,-3.2),(98.2,-3.2),(102.2,-2.1),(104.2,-2.1),(106.3,-5.5),(108.3,1.1),(111.3,7.4),(113.3,3.2),(115.9,2.1),(117.9,-1.6),(120,-5.9)],
    "seis": [(0,0),(41.1,0),(43.6,2.1),(46.2,3.2),(48.7,1.6),(51.2,-1.4),(53.7,-1.6),(56.8,1.6),(58.8,-1.1),(62.3,2.7),(65.9,0.7),(69.9,0.5),(72.9,1.1),(76,-1.6),(79,-0.5),(82.5,-2.7),(86.1,2.1),(89.1,0),(93.1,-0.3),(96.2,0.3),(101.2,0),(104.2,-1.1),(107.3,0.7),(112.3,1.6),(115.4,-0.3),(118.4,1.1),(120,1.1)],
    "unif": [(0,0),(40.6,0),(42.6,1.1),(44.6,5.9),(47.7,5.9),(49.7,4.3),(51.2,0.5),(54.7,-2.1),(57.3,1.6),(59.8,0.5),(61.8,4.3),(64.8,3.7),(67.4,1.1),(69.4,1.1),(72.4,3.2),(74.9,-2.1),(77.5,0),(81,-0.5),(83.5,-1.6),(86.6,1.1),(89.6,2.1),(93.1,-0.5),(95.2,-1.1),(97.7,1.1),(101.2,0),(104.2,-2.1),(106.8,3.7),(109.3,2.7),(112.3,3.7),(115.4,0),(118.4,2.1),(120,1.6)],
    "Ar": [(0,0),(42.6,0),(44.6,-0.3),(47.2,3.4),(50.2,1.8),(52.7,0.7),(55.8,-1.9),(58.3,2.9),(60.3,-0.8),(63.8,2.3),(67.9,1.8),(72.4,-0.3),(75,2.9),(77.9,-0.3),(81,0.7),(84,-2.4),(87.1,2.9),(90.1,0.2),(94.1,-0.3),(98.2,0),(102.2,1.3),(104.7,-0.6),(109.3,0.2),(113.8,2.3),(115.9,-0.8),(120,0.2)],
    "At": [(0,0),(43.1,0),(44.6,4.3),(46.7,7.4),(48.7,5.3),(51.7,3.2),(54.7,1.1),(56.3,-0.5),(57.8,4.3),(59.8,1.6),(63.8,5.3),(65.9,3.2),(68.9,1.1),(72.9,2.1),(75.9,1.6),(79.5,-1.1),(82,0),(84,-1.1),(87.1,2.1),(91.1,0.5),(96.2,1.1),(100.2,1.6),(103.2,0.5),(106.3,0),(108.3,2.1),(111.8,4.3),(114.3,1.6),(117.4,0.5)],
    "Br": [(0,0),(42.6,0),(44.6,1.1),(46.7,2.7),(49.2,1.6),(51.7,-1.1),(54.7,-1.1),(57.8,2.1),(59.8,-0.5),(62.3,2.7),(65.9,2.1),(69.4,1.1),(71.4,-1.1),(74.4,2.1),(77,-0.5),(81,-0.5),(83,-1.6),(86.6,2.1),(89.6,0.5),(94.1,0.5),(96.2,-0.5),(99.7,-1.6),(102.7,1.6),(106.3,0),(110.3,0.5),(113.3,2.1),(115.9,-0.5),(117.9,0.5),(120,-0.5)],
    "Bt": [(0,0),(43.1,0),(45.7,3.9),(48.7,2.9),(51.2,-0.3),(53.7,-0.3),(55.8,-0.9),(58.8,2.3),(62.3,3.4),(65.9,3.4),(69.9,1.3),(72.9,2.3),(75.9,1.3),(81,0.2),(85.1,2.3),(89.1,0.7),(93.1,1.3),(96.2,0.2),(100.2,-1.4),(103.2,1.3),(107.3,0.7),(112.3,1.8),(115.4,1.3),(117.9,-0.9)],
    "Cr": [(0,0),(44.6,0),(47.2,13.3),(49.7,12.2),(51.7,11.2),(53.5,3.2),(55.8,5.3),(57.8,4.3),(60.8,6.4),(63.8,6.4),(65.9,14.4),(67.9,13.8),(70.4,5.3),(72.4,8.5),(73.9,3.7),(75.9,4.3),(78.5,6.9),(81,0.5),(84,4.3),(87.1,1.6),(90.1,5.3),(93.1,1.6),(95.2,3.7),(100.2,-1.1),(102.7,5.9),(106.3,3.2),(109.3,3.7),(111.3,2.1),(114.3,5.3),(117.4,2.1),(120,1.6)],
    "Ct": [(0,0),(44.6,0),(46.2,8.5),(47.7,12.2),(50.2,11.7),(52.2,6.4),(54.2,4.3),(56.8,4.3),(59.8,5.9),(62.8,6.4),(65.9,14.4),(67.9,12.8),(69.9,6.4),(71.9,4.8),(74.9,4.8),(78,7.4),(81,0.5),(84,3.2),(86.1,2.1),(89.6,5.3),(92.1,3.7),(95.2,3.7),(97.2,2.1),(99.7,-1.1),(102.7,5.9),(105.3,3.2),(108.3,3.2),(111.3,2.1),(113.8,5.3),(116.4,4.3),(118.4,2.1)],
}

SHIMOSE = {
    "obs": [(0.2,1.8),(3.2,1.1),(5.3,-0.5),(10.3,-1.1),(20.4,-0.7),(30.5,-1.4),(34,0.5),(40.6,0.5),(51.2,0.5),(53.2,2.7),(55.8,3.9),(58.8,0.5),(60.8,-5.3),(62.8,-5.3),(64.8,-2.4),(67.9,-1.6),(70.4,1.6),(73.4,1.1),(75.9,-2.1),(77.9,-3.7),(81,-3.7),(83.5,0),(86.1,2.1),(89.1,3.7),(92.1,4.8),(95.2,2.7),(97.2,2.1),(99.2,2.7),(101.2,5.9),(103.7,2.7),(107.3,0),(110.3,-2.7),(113.3,-4.3),(115.9,-2.1),(117.4,-0.5),(120,-0.5)],
    "seis": [(0,0),(50.7,0),(53.2,1.3),(55.8,2.1),(58.3,-0.3),(60.3,0.7),(62.8,0.7),(65.9,-1.1),(68.9,1.1),(71.9,1.3),(74.9,1.3),(75.9,0.7),(77.9,-0.9),(81,-1.9),(84,-0.3),(86.6,0.7),(88.6,0.2),(91.1,1.3),(94.6,2.9),(97.7,-3.0),(100.2,0.7),(102.2,2.9),(105.8,-1.4),(109.3,2.9),(112.8,-1.1),(115.9,1.8),(117.9,0.2),(119.4,-1.4)],
    "unif": [(0,0),(50.2,0),(52.7,2.1),(54.7,4.3),(57.3,1.6),(59.3,0),(61.3,1.1),(63.3,0),(65.9,-2.9),(67.9,-0.5),(70.4,4.3),(73.9,2.7),(76.9,0.5),(80,-3.7),(81,-4.8),(84,-2.1),(86.6,2.7),(88.6,1.6),(90.6,-1.6),(94.6,5.3),(97.2,-0.5),(98.7,-4.8),(101.2,0.5),(102.7,4.3),(105.8,-1.6),(109.3,3.2),(112.8,-1.6),(115.9,1.6),(118.9,0)],
    "Ar": [(0,0),(52.7,0),(55.8,2.9),(57.8,1.3),(59.8,-1.4),(62.3,1.8),(64.3,0.7),(66.9,-2.4),(69.9,2.3),(72.9,2.3),(74.9,-0.3),(77,2.3),(79,1.3),(81,-0.9),(83,-3.5),(85.1,-0.9),(87.1,2.3),(89.6,-2.4),(92.1,0.2),(95.2,3.4),(98.2,-1.9),(100.2,-0.9),(103.2,2.9),(106.3,-1.4),(110.3,3.4),(113.3,-1.4),(116.9,2.9),(119.4,-1.9)],
    "At": [(0,0),(51.7,0),(53.7,1.3),(55.8,5.5),(57.3,3.4),(59.3,-2.4),(61.8,-0.9),(63.8,2.3),(66.9,-4.0),(69.4,4.5),(72.9,2.3),(75.9,1.3),(79,-2.4),(81.5,-4.0),(84,1.3),(87.1,1.3),(89.6,-2.4),(91.6,0.7),(94.6,4.5),(97.2,-2.4),(100.2,-0.9),(103.2,4.5),(106.3,-0.9),(109.3,0.2),(112.3,1.8),(115.9,3.9),(117.4,0.2),(119.4,-4.6)],
    "Br": [(0,0),(51.7,0),(55.3,2.7),(58.8,-2.1),(61.8,1.6),(65.4,-2.7),(68.9,2.1),(72.9,-1.1),(75.9,1.6),(81,-2.1),(84,-0.5),(86.6,1.1),(89.1,-1.6),(93.1,2.1),(98.2,-1.6),(103.2,2.1),(105.3,-2.1),(109.3,1.6),(111.3,-1.1),(114.8,3.2),(116.9,-2.1),(120,-3.2)],
    "Bt": [(0,0),(50.7,0),(53.2,1.3),(55.3,4.5),(58.3,-3.5),(61.3,2.3),(63.8,0.2),(65.9,-2.4),(67.9,2.3),(69.9,3.4),(72.4,-0.3),(75.9,2.3),(80,-2.4),(83,0.2),(86.1,1.3),(88.1,-1.9),(91.1,2.3),(94.1,3.4),(97.2,-1.9),(100.2,1.8),(103.2,2.3),(106.3,-1.9),(108.3,1.3),(112.3,1.3),(115.4,4.5),(117.4,-3.0),(118.4,-4.0)],
    "Cr": [(0,0),(52.7,0),(55.8,10.4),(59.8,-4.5),(63.3,9.4),(66.9,-6.1),(70.4,12.0),(73.4,1.4),(75.9,0.9),(77.9,2.4),(80,-2.9),(83,-4.5),(86.6,4.6),(90.1,-2.9),(94.6,4.6),(98.2,0.3),(100.7,-4.5),(104.2,8.8),(108.3,-7.7),(112.3,8.8),(114.8,2.4),(116.9,3.5),(118.9,-1.8)],
    "Ct": [(0,0),(51.7,0),(54.2,3.7),(55.8,9.6),(57.8,3.2),(59.8,-4.8),(62.8,8.0),(64.3,3.2),(66.9,-6.4),(70.4,11.2),(73.4,2.7),(75.9,0.5),(78.5,1.6),(82,-4.3),(86.1,3.2),(90.1,-2.7),(93.6,4.3),(96.2,2.1),(100.2,-4.3),(104.2,9.0),(108.3,-8.0),(112.3,8.5),(116.4,3.7),(119.4,-3.2)],
}

NIIGATA = {
    "obs": [(4.4,0.3),(13.9,0),(21.1,-0.4),(25.6,0),(28.6,-2.0),(32.2,-0.7),(37.2,0.7),(42.3,0.9),(47.4,1.7),(52.4,0.7),(58.5,-0.7),(60.5,0.7),(62.5,4.0),(65.6,6.6),(68.1,3.3),(71.2,-1.3),(73.7,2.0),(75.7,1.3),(78.2,-3.3),(81.8,2.7),(84.3,-3.6),(86.8,0.7),(89.9,6.6),(91.9,1.3),(93.9,-4.6),(95.9,4.0),(98.5,9.3),(101,6.6),(103,2.0),(105.1,4.6),(107.6,-2.0),(109.6,2.0),(112.1,6.0),(114.7,0.7),(116.7,-3.3),(118.2,-2.0),(120,0.7)],
    "seis": [(0,0),(63.6,0),(65.6,1.7),(68.1,4.0),(70.7,0.4),(72.2,-2.9),(74.7,-1.6),(76.7,-1.3),(78.7,0.4),(80.8,-1.3),(82.8,-0.3),(85.8,2.4),(87.9,-0.9),(90.4,-2.3),(92.4,-0.3),(94.4,-2.3),(98,1.1),(101.5,3.1),(104,1.7),(105.6,-1.6),(107.6,-7.6),(109.1,-2.9),(112.1,2.7),(114.7,0.4),(117.2,-0.9),(120,-2.3)],
    "unif": [(0,0),(63.1,0),(65.6,4.4),(68.6,8.4),(70.7,3.0),(72.2,-3.6),(74.7,-4.2),(76.7,-5.6),(78.7,0.4),(80.8,-1.6),(82.8,1.1),(85.8,5.7),(88.4,-0.9),(90.9,-3.6),(94.9,-0.9),(98,-0.9),(99.5,5.7),(101.5,7.3),(103.5,5.7),(105.6,-6.2),(107.1,-12.9),(109.1,-4.9),(111.1,-3.6),(113.7,6.4),(116.2,-2.3),(118.2,1.7),(120,-4.9)],
    "Ar": [(0,0),(64.1,0),(66.1,2.7),(68.6,4.6),(70.7,-1.3),(72.7,-6.6),(74.7,2.7),(76.7,-2.7),(79.8,3.3),(81.8,-2.0),(83.3,2.7),(85.3,-4.0),(87.9,5.3),(89.9,-4.0),(91.9,1.3),(94.9,-4.0),(96.9,0),(99.5,0.7),(102.5,6.0),(104.5,2.0),(106.1,0),(108.1,-13.9),(110.1,0),(112.1,0),(114.2,6.4),(116.7,-4.0),(118.7,2.0),(120,0)],
    "At": [(0,0),(63.6,0),(66.1,6.9),(68.6,11.5),(70.7,-1.1),(72.7,-14.3),(74.7,-2.4),(76.7,-3.7),(79.2,5.6),(80.8,-6.4),(82.8,7.6),(84.8,-9.0),(86.8,10.2),(89.4,-11.7),(91.9,6.9),(95.4,-7.7),(97.9,0.3),(102,10.9),(105.1,4.2),(107.1,-9.0),(109.1,-22.3),(111.1,-3.7),(114.2,12.2),(116.7,-7.7),(119.2,4.2)],
    "Br": [(0,0),(62.6,0),(65.6,5.0),(68.6,2.1),(70.6,-6.5),(72.7,-3.2),(74.7,2.8),(76.7,-3.8),(78.7,4.1),(80.8,-3.8),(82.8,4.1),(84.8,-5.2),(85.8,5.4),(87.9,-7.2),(90.4,6.1),(92.9,-2.5),(95.4,0.8),(96.9,-1.9),(99,6.1),(101.5,2.8),(103.5,0.1),(105.6,-14.5),(107.6,3.5),(109.7,-1.9),(112.1,8.8),(114.7,-5.8),(117.2,7.4),(119.7,-9.8)],
    "Bt": [(0,0),(62.6,0),(66.1,8.0),(68.6,2.7),(70.6,-8.0),(73.7,-1.3),(75.7,2.7),(77.7,6.6),(79.8,-2.7),(81.8,4.0),(83.8,-2.7),(85.8,8.0),(87.9,-14.6),(90.4,5.3),(92.4,-1.3),(94.9,0),(98,6.6),(101,2.7),(103.5,-2.7),(106.1,-15.9),(107.6,-8.0),(110.1,-2.7),(112.7,8.0),(115.2,-4.0),(117.2,6.0),(119.2,-9.3)],
    "Cr": [(0,0),(61,0),(63.6,6.6),(67.6,20.6),(69.6,8.0),(72.7,-20.6),(74.7,-1.3),(76.7,-6.0),(79.8,15.9),(81.8,2.7),(83.3,6.6),(85.3,-5.3),(87.3,3.3),(89.4,-17.2),(91.4,15.3),(94.4,-15.3),(96.9,-4.0),(98.5,17.2),(100.5,5.3),(102,25.2),(105,1.3),(108.6,-36.5),(111.1,2.7),(112.6,1.3),(114.7,22.6),(117.7,-8.6),(119.2,8.6)],
    "Ct": [(0,0),(61.5,0),(64.6,12.2),(67.6,20.2),(69.6,5.6),(72.7,-21.0),(74.7,-7.7),(76.7,-4.4),(80.8,15.5),(82.8,2.9),(84.8,-2.4),(86.8,1.6),(89.4,-17.0),(91.4,14.2),(94.4,-14.3),(96.9,-3.7),(98.9,12.2),(102,25.5),(105.1,-1.1),(108.6,-34.9),(111.1,0.3),(114.2,21.5),(116.7,-7.7),(119.2,6.9)],
}

# ---------------- LAYOUT & STYLE ----------------
W, H = 1961, 1653
PX_PER_CM = 3.315
FONT = 24
TEXT_COLOR = "#231815"

COLORS = {"obs": "#000000", "seis": "#808080", "unif": "#FF8000", "Ar": "#FF0000", "At": "#FF00FF",
          "Br": "#0000FF", "Bt": "#1EC8FF", "Cr": "#00B000", "Ct": "#006400"}
DASHED = {"At", "Bt", "Ct"}
DASH = (0, (2.0, 1.6))
LW = {"obs": 3.5}
LW_DEFAULT = 3.3

# name, data, x(t=0) px, x(t=120) px, axis y px, title (x, y) px, top px, trace baselines (cm above axis)
PANELS = [
    ("Esashi", ESASHI, 10, 404.3, 839.4, (10, 200), 140, [184.7, 167.7, 150.9, 134.2, 115.1, 96.8, 81.5, 57.5, 22.9]),
    ("Fukushima", FUKUSHIMA, 522, 918, 929.7, (513, 200), 140, [204.2, 185.7, 173.3, 156.3, 138.8, 119.5, 101.9, 74.0, 33.6]),
    ("Iwasaki", IWASAKI, 1035, 1431, 1020.7, (1025, 201), 140, [230.7, 215.3, 198.9, 174.5, 149.9, 126.9, 106.8, 73.3, 27.4]),
    ("Funakoshi", FUNAKOSHI, 1527.7, 1923, 851.8, (1517, 206), 140, [175.6, 167.1, 151.4, 134.5, 117.4, 98.1, 80.5, 56.6, 16.2]),
    ("Funakawa", FUNAKAWA, 10, 404.3, 1556.8, (0, 957), 940, [159.2, 147.2, 134.4, 117.6, 100.3, 80.8, 66.2, 46.4, 18.6]),
    ("Akita", AKITA, 522, 918, 1556.7, (512, 1120), 940, [115.4, 100.0, 88.8, 80.1, 65.4, 53.2, 41.8, 25.5, 9.0]),
    ("Shimose", SHIMOSE, 1035, 1431, 1556.7, (1025, 1121), 940, [116.0, 104.6, 92.6, 81.2, 69.5, 56.9, 45.0, 27.9, 10.6]),
    ("Niigata", NIIGATA, 1527.7, 1923, 1557, (1517, 983), 940, [162.6, 154.2, 140.3, 126.1, 105.9, 88.1, 70.3, 45.1, 21.0]),
]

sns.set_theme(style="white")
plt.rcParams["font.family"] = ["Open Sans", "DejaVu Sans"]
plt.rcParams["axes.linewidth"] = 1.6

fig = plt.figure(figsize=(W / 100, H / 100), dpi=100)
fig.patch.set_facecolor("white")


def style_of(key):
    return dict(color=COLORS[key], lw=LW.get(key, LW_DEFAULT),
                linestyle=DASH if key in DASHED else "-")


for name, data, x0, x1, ay, (tx, ty), top, bases in PANELS:
    ax = fig.add_axes([x0 / W, 1 - ay / H, (x1 - x0) / W, (ay - top) / H])
    ax.patch.set_visible(False)
    for key, base in zip(SERIES_KEYS, bases):
        df = pd.DataFrame(data[key], columns=["t", "amp"])
        df["y"] = df["amp"] + base
        sns.lineplot(data=df, x="t", y="y", ax=ax, sort=False, estimator=None,
                     clip_on=False, solid_joinstyle="round", legend=False, **style_of(key))
    ax.set_xlim(0, 120)
    ax.set_ylim(0, (ay - top) / PX_PER_CM)
    for s in ["left", "right", "top"]:
        ax.spines[s].set_visible(False)
    ax.spines["bottom"].set_linewidth(1.6)
    ax.spines["bottom"].set_color("black")
    ax.set_yticks([])
    ax.set_xticks(TIME_MAJOR)
    ax.set_xticklabels([str(v) for v in TIME_MAJOR])
    ax.set_xticks(TIME_MINOR, minor=True)
    ax.tick_params(axis="x", which="major", bottom=True, length=12, width=1.6, direction="out",
                   pad=7, labelsize=FONT, colors="black", labelcolor=TEXT_COLOR)
    ax.tick_params(axis="x", which="minor", bottom=True, length=6, width=1.6, direction="out")
    ax.set_xlabel("")
    ax.set_ylabel("")
    fig.text(tx / W, 1 - ty / H, name, ha="left", va="center", fontsize=FONT, color=TEXT_COLOR)

fig.text(225 / W, 1 - 1636 / H, X_LABEL, ha="center", va="center", fontsize=FONT, color=TEXT_COLOR)

# scale bar
sb = fig.add_axes([1872 / W, 1 - 147 / H, 18 / W, SCALE_CM * PX_PER_CM / H])
sb.axis("off")
sb.set_xlim(0, 1)
sb.set_ylim(0, SCALE_CM)
for xs, ys in [([0.5, 0.5], [0, SCALE_CM]), ([0, 1], [0, 0]), ([0, 1], [SCALE_CM, SCALE_CM])]:
    sns.lineplot(x=xs, y=ys, ax=sb, color="black", lw=1.6, clip_on=False, sort=False, estimator=None)
fig.text(1860 / W, 1 - 97 / H, str(SCALE_CM), ha="right", va="center", fontsize=FONT, color=TEXT_COLOR)
fig.text(1860 / W, 1 - 131 / H, "cm", ha="right", va="center", fontsize=FONT, color=TEXT_COLOR)

# legend (frame drawn separately)
order = ["obs", None, "seis", "unif", "Ar", "At", "Br", "Bt", "Cr", "Ct"]
handles, labels = [], []
for k in order:
    if k is None:
        handles.append(Line2D([], [], color="none"))
        labels.append("")
    else:
        handles.append(Line2D([0, 1], [0, 0], **style_of(k)))
        labels.append(SERIES_LABELS[SERIES_KEYS.index(k)])
leg = fig.legend(handles, labels, ncol=5, loc="upper left",
                 bbox_to_anchor=(146 / W, 1 - 22 / H), frameon=False,
                 handlelength=2.5, handletextpad=0.55, columnspacing=1.0,
                 labelspacing=0.85, borderaxespad=0, borderpad=0, fontsize=FONT)
for t in leg.get_texts():
    t.set_color(TEXT_COLOR)
fig.patches.append(Rectangle((109 / W, 1 - 128 / H), (1713 - 109) / W, 125 / H,
                             transform=fig.transFigure, fill=False, edgecolor="black", lw=1.6))

fig.savefig("out.png", dpi=100, facecolor="white")
